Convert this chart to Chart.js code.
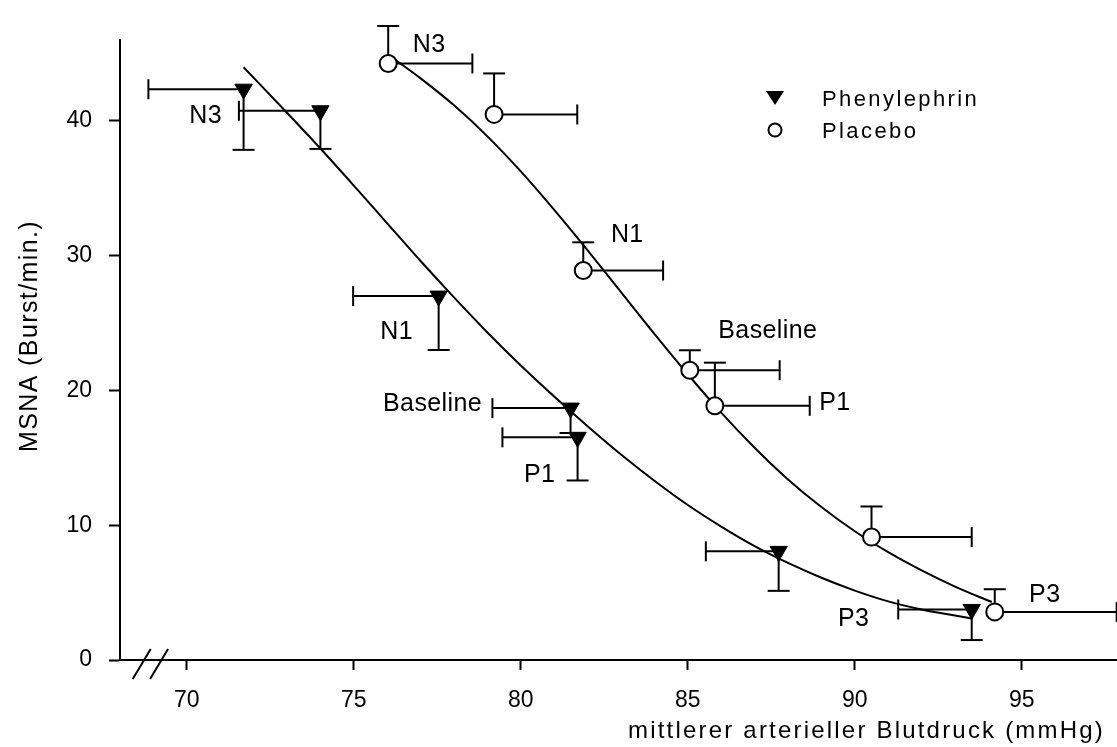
<!DOCTYPE html>
<html>
<head>
<meta charset="utf-8">
<script src="https://cdn.jsdelivr.net/npm/chart.js@4.4.1/dist/chart.umd.min.js"></script>
<style>
  html, body { margin: 0; padding: 0; background: #fff; }
</style>
</head>
<body>
<canvas id="chart-1" width="1117" height="747"></canvas>
<script>
// Phenylephrin (filled triangles), error bars go left / down
const pheX = [71.7, 74.0, 77.54, 81.49, 81.7, 87.72, 93.5];
const pheY = [42.35, 40.75, 27.0, 18.69, 16.52, 8.06, 3.75];
const pheXErr = [2.85, 2.44, 2.56, 2.34, 2.25, 2.18, 2.2];
const pheYErr = [4.5, 2.83, 4.0, 1.85, 3.2, 2.93, 2.27];
const pheLabels = ["N3", "", "N1", "Baseline", "P1", "", "P3"];

// Placebo (open circles), error bars go right / up
const plaX = [76.03, 79.2, 81.87, 85.06, 85.81, 90.5, 94.19];
const plaY = [44.26, 40.48, 28.9, 21.5, 18.86, 9.12, 3.57];
const plaXErr = [2.52, 2.49, 2.39, 2.69, 2.84, 3.0, 3.65];
const plaYErr = [2.78, 3.04, 2.09, 1.48, 3.2, 2.27, 1.68];
const plaLabels = ["N3", "", "N1", "Baseline", "P1", "", "P3"];

// fitted curves
const pheFitX = [71.7, 73, 74, 75, 76, 77, 78, 79, 80, 81, 82, 83, 84, 85, 86, 87, 88, 89, 90, 91, 92, 93, 93.5];
const pheFitY = [43.98, 40.6, 37.95, 35.2, 32.4, 29.6, 26.9, 24.3, 21.85, 19.55, 17.35, 15.25, 13.3, 11.5, 9.9, 8.45, 7.2, 6.1, 5.15, 4.35, 3.75, 3.3, 3.08];
const plaFitX = [76.2, 77, 78, 79, 80, 81, 82, 83, 84, 85, 86, 87, 88, 89, 90, 91, 92, 93, 94.1];
const plaFitY = [44.6, 43.15, 41.15, 38.85, 36.25, 33.4, 30.4, 27.3, 24.2, 21.2, 18.35, 15.75, 13.4, 11.35, 9.55, 8.0, 6.65, 5.45, 4.3];

const xTicks = [70, 75, 80, 85, 90, 95];
const yTicks = [0, 10, 20, 30, 40];
const xRange = [68, 97.85];
const yRange = [0, 46];
const axisBreak = [68.65, 69.17];

const FONT = '"Liberation Sans", Arial, sans-serif';

// label offsets in px from the point they belong to
const pheLabelPos = [[-38, 34], null, [-42, 43], [-138, 3], [-38, 45], null, [-118, 17]];
const plaLabelPos = [[41, -11], null, [44, -28], [78, -32], [120, 4], null, [50, -10]];

function toPoints(xs, ys) {
  return xs.map((v, i) => ({ x: v, y: ys[i] }));
}

function text(ctx, str, x, y, size, spacing, align) {
  ctx.save();
  ctx.font = size + "px " + FONT;
  ctx.letterSpacing = spacing + "px";
  ctx.textAlign = align;
  ctx.textBaseline = "alphabetic";
  ctx.fillStyle = "#000";
  ctx.fillText(str, x, y);
  ctx.restore();
}

function seg(ctx, x0, y0, x1, y1) {
  ctx.beginPath();
  ctx.moveTo(x0, y0);
  ctx.lineTo(x1, y1);
  ctx.stroke();
}

const errorBars = {
  id: "errorBars",
  beforeDatasetsDraw(chart) {
    const { ctx, scales: { x, y } } = chart;
    ctx.save();
    ctx.strokeStyle = "#000";
    ctx.lineWidth = 2;
    pheX.forEach((v, i) => {
      const px = x.getPixelForValue(v), py = y.getPixelForValue(pheY[i]);
      const xl = x.getPixelForValue(v - pheXErr[i]);
      const yd = y.getPixelForValue(pheY[i] - pheYErr[i]);
      seg(ctx, xl, py, px, py);
      seg(ctx, xl, py - 10, xl, py + 10);
      seg(ctx, px, py, px, yd);
      seg(ctx, px - 11, yd, px + 11, yd);
    });
    plaX.forEach((v, i) => {
      const px = x.getPixelForValue(v), py = y.getPixelForValue(plaY[i]);
      const xr = x.getPixelForValue(v + plaXErr[i]);
      const yu = y.getPixelForValue(plaY[i] + plaYErr[i]);
      seg(ctx, px, py, xr, py);
      seg(ctx, xr, py - 10, xr, py + 10);
      seg(ctx, px, py, px, yu);
      seg(ctx, px - 11, yu, px + 11, yu);
    });
    ctx.restore();
  }
};

const decorations = {
  id: "decorations",
  afterDatasetsDraw(chart) {
    const { ctx, chartArea, scales: { x, y } } = chart;

    // point labels
    pheLabels.forEach((t, i) => {
      if (!t) return;
      const o = pheLabelPos[i];
      text(ctx, t, x.getPixelForValue(pheX[i]) + o[0], y.getPixelForValue(pheY[i]) + o[1], 25, 0.4, "center");
    });
    plaLabels.forEach((t, i) => {
      if (!t) return;
      const o = plaLabelPos[i];
      text(ctx, t, x.getPixelForValue(plaX[i]) + o[0], y.getPixelForValue(plaY[i]) + o[1], 25, 0.4, "center");
    });

    // legend
    ctx.save();
    const lx = chartArea.left + 655;
    ctx.fillStyle = "#000";
    ctx.beginPath();
    ctx.moveTo(lx - 9, 91);
    ctx.lineTo(lx + 9, 91);
    ctx.lineTo(lx, 105);
    ctx.closePath();
    ctx.fill();
    ctx.strokeStyle = "#000";
    ctx.lineWidth = 2;
    ctx.beginPath();
    ctx.arc(lx, 130, 6.5, 0, Math.PI * 2);
    ctx.stroke();
    ctx.restore();
    text(ctx, "Phenylephrin", lx + 47, 106, 22, 2.4, "left");
    text(ctx, "Placebo", lx + 47, 138, 22, 2.4, "left");

    // axis titles
    text(ctx, "mittlerer arterieller Blutdruck (mmHg)", chartArea.right - 12, 738, 24, 2.2, "right");
    ctx.save();
    ctx.translate(37, (chartArea.top + chartArea.bottom) / 2 - 14);
    ctx.rotate(-Math.PI / 2);
    text(ctx, "MSNA (Burst/min.)", 0, 0, 25, 1.4, "center");
    ctx.restore();

    // axis break marks
    ctx.save();
    ctx.strokeStyle = "#000";
    ctx.lineWidth = 2;
    const by = chartArea.bottom;
    axisBreak.forEach(v => {
      const bx = x.getPixelForValue(v);
      seg(ctx, bx - 9, by + 19, bx + 9, by - 11);
    });
    ctx.restore();
  }
};

const ctx1 = document.getElementById("chart-1").getContext("2d");
const myChart = new Chart(ctx1, {
  type: "scatter",
  data: {
    datasets: [
      {
        label: "Phenylephrin",
        data: toPoints(pheX, pheY),
        pointStyle: "triangle",
        pointRotation: 180,
        pointRadius: 10,
        pointBackgroundColor: "#000",
        pointBorderColor: "#000",
        pointBorderWidth: 1,
        order: 1,
        clip: false,
      },
      {
        label: "Placebo",
        data: toPoints(plaX, plaY),
        pointStyle: "circle",
        pointRadius: 8.5,
        pointBackgroundColor: "#fff",
        pointBorderColor: "#000",
        pointBorderWidth: 2,
        order: 1,
        clip: false,
      },
      {
        label: "Phenylephrin fit",
        type: "line",
        data: toPoints(pheFitX, pheFitY),
        borderColor: "#000",
        borderWidth: 2,
        pointRadius: 0,
        cubicInterpolationMode: "monotone",
        fill: false,
        order: 2,
      },
      {
        label: "Placebo fit",
        type: "line",
        data: toPoints(plaFitX, plaFitY),
        borderColor: "#000",
        borderWidth: 2,
        pointRadius: 0,
        cubicInterpolationMode: "monotone",
        fill: false,
        order: 2,
      },
    ],
  },
  options: {
    responsive: false,
    animation: false,
    devicePixelRatio: 1,
    layout: { autoPadding: false, padding: { top: 40, left: 0, right: 0, bottom: 0 } },
    plugins: { legend: { display: false }, tooltip: { enabled: false } },
    scales: {
      x: {
        type: "linear",
        min: xRange[0],
        max: xRange[1],
        afterBuildTicks: s => { s.ticks = xTicks.map(v => ({ value: v })); },
        afterFit: s => { s.height = 87; },
        grid: { drawOnChartArea: false, drawTicks: true, tickLength: 10, tickColor: "#000", tickWidth: 2 },
        border: { display: true, color: "#000", width: 2 },
        ticks: { color: "#000", font: { family: FONT, size: 23 }, padding: 17, maxRotation: 0 },
      },
      y: {
        type: "linear",
        min: yRange[0],
        max: yRange[1],
        afterBuildTicks: s => { s.ticks = yTicks.map(v => ({ value: v })); },
        afterFit: s => { s.width = 120; },
        grid: { drawOnChartArea: false, drawTicks: true, tickLength: 11, tickColor: "#000", tickWidth: 2 },
        border: { display: true, color: "#000", width: 2 },
        ticks: { color: "#000", font: { family: FONT, size: 23 }, padding: 17 },
      },
    },
  },
  plugins: [errorBars, decorations],
});
</script>
</body>
</html>
